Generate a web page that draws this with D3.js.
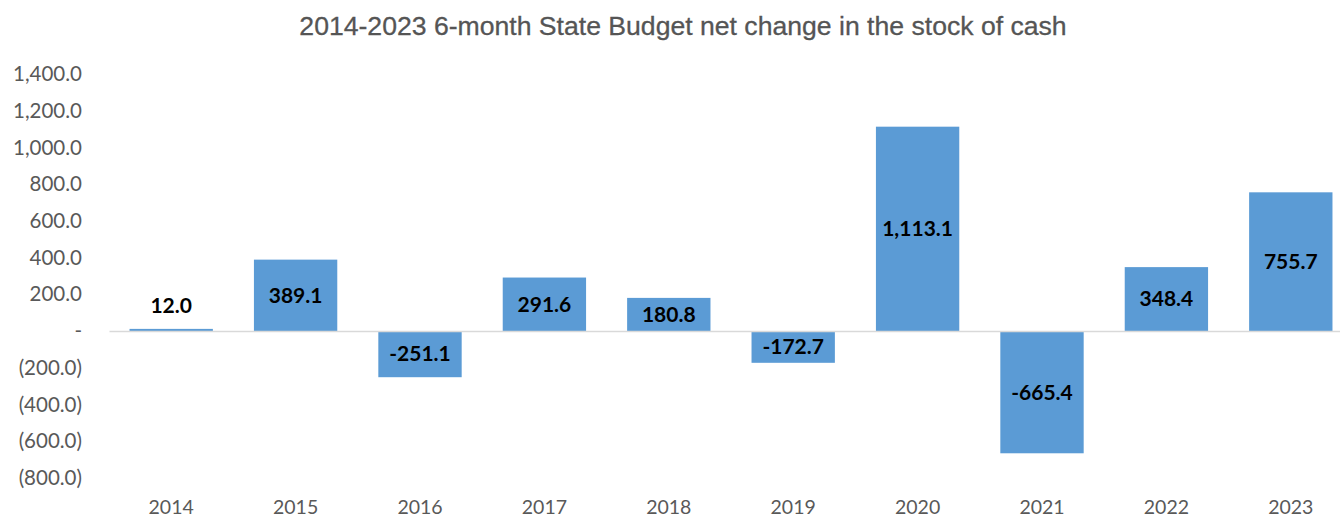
<!DOCTYPE html>
<html>
<head>
<meta charset="utf-8">
<script src="https://cdn.jsdelivr.net/npm/d3@7"></script>
<style>
  html, body { margin: 0; padding: 0; background: #fff; }
  svg { display: block; }
</style>
</head>
<body>
<svg id="chart" width="1340" height="519"></svg>
<script>
// Six-month net change in the State Budget cash stock, by year
const years = ["2014", "2015", "2016", "2017", "2018", "2019", "2020", "2021", "2022", "2023"];
const netChange = [12.0, 389.1, -251.1, 291.6, 180.8, -172.7, 1113.1, -665.4, 348.4, 755.7];
const yTicks = [1400, 1200, 1000, 800, 600, 400, 200, 0, -200, -400, -600, -800];
const chartTitle = "2014-2023 6-month State Budget net change in the stock of cash";

const svg = d3.select("#chart");
const plot = { left: 109, right: 1353, top: 74, bottom: 478 };

const x = d3.scaleBand()
  .domain(years)
  .range([plot.left, plot.right])
  .paddingInner(0.33)
  .paddingOuter(0.165);

const y = d3.scaleLinear()
  .domain([-800, 1400])
  .range([plot.bottom, plot.top]);

// Number formats: plain hyphen for negatives; accounting style on the value axis
const fmt1 = d3.formatLocale({ decimal: ".", thousands: ",", grouping: [3], currency: ["", ""], minus: "-" }).format(",.1f");
const accounting = v => v === 0 ? "-" : (v < 0 ? "(" + fmt1(-v) + ")" : fmt1(v));

svg.append("text")
  .attr("x", 683)
  .attr("y", 35)
  .attr("text-anchor", "middle")
  .attr("font-family", "'Liberation Sans', Arial, sans-serif")
  .attr("font-size", 26.6)
  .attr("fill", "#555")
  .attr("stroke", "#555")
  .attr("stroke-width", 0.3)
  .text(chartTitle);

// Value axis labels only (no axis line or ticks)
const yAxis = svg.append("g")
  .attr("transform", `translate(${plot.left - 27},0)`)
  .call(d3.axisLeft(y).tickValues(yTicks).tickFormat(accounting).tickSize(0).tickPadding(0));
yAxis.select(".domain").remove();
yAxis.selectAll("text")
  .attr("font-family", "Lato, 'Open Sans', sans-serif")
  .attr("font-size", 20.5)
  .attr("fill", "#595959");

// Bars
svg.append("g")
  .selectAll("rect")
  .data(years)
  .join("rect")
  .attr("x", d => x(d))
  .attr("width", x.bandwidth())
  .attr("y", (d, i) => y(Math.max(0, netChange[i])))
  .attr("height", (d, i) => Math.abs(y(netChange[i]) - y(0)))
  .attr("fill", "#5B9BD5");

// Category axis along zero line
const xAxis = svg.append("g")
  .attr("transform", `translate(0,${y(0)})`)
  .call(d3.axisBottom(x).tickSize(0).tickFormat(() => ""));
xAxis.select(".domain")
  .attr("stroke", "#D9D9D9")
  .attr("stroke-width", 1.5);

// Category labels below the plot
svg.append("g")
  .selectAll("text")
  .data(years)
  .join("text")
  .attr("x", d => x(d) + x.bandwidth() / 2)
  .attr("y", 514)
  .attr("text-anchor", "middle")
  .attr("font-family", "Lato, 'Open Sans', sans-serif")
  .attr("font-size", 19.5)
  .attr("fill", "#595959")
  .text(d => d);

// Value labels centred in each bar, or above it when the bar is too short
svg.append("g")
  .selectAll("text")
  .data(years)
  .join("text")
  .attr("x", d => x(d) + x.bandwidth() / 2)
  .attr("y", (d, i) => {
    const v = netChange[i];
    const h = Math.abs(y(v) - y(0));
    if (h < 24) return y(Math.max(0, v)) - 23;
    return (y(v) + y(0)) / 2;
  })
  .attr("dy", "0.35em")
  .attr("text-anchor", "middle")
  .attr("font-family", "Lato, 'Open Sans', sans-serif")
  .attr("font-weight", "bold")
  .attr("font-size", 21)
  .attr("fill", "#000")
  .text((d, i) => fmt1(netChange[i]));
</script>
</body>
</html>
